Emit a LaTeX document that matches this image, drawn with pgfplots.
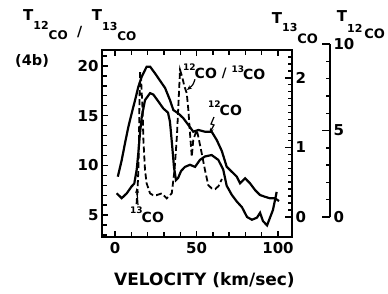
\documentclass[border=0pt]{standalone}
\usepackage{pgfplots}
\pgfplotsset{compat=1.18}
\usepackage{pgfplotstable}
\usepackage{fontspec}
\setmainfont{DejaVu Sans}
\usetikzlibrary{arrows.meta}
\newcommand{\fs}[1]{\fontsize{#1}{#1}\selectfont\bfseries}

% 12CO antenna temperature (right outer axis, T_12CO)
\pgfplotstableread{
x y
1.7 2.33
4.1 3.29
6.1 4.26
8.2 5.22
10.2 5.99
12.3 6.76
14.3 7.53
16.4 8.11
19.4 8.69
21.5 8.69
24.5 8.31
28.7 7.73
30.7 7.46
33.7 6.76
35.8 6.18
38.8 5.99
41.9 5.71
45.0 5.32
48.0 4.93
51.1 5.03
55.2 4.93
59.3 4.93
62.4 4.45
65.5 3.82
68.5 2.91
71.6 2.62
74.7 2.33
76.7 1.95
79.8 2.24
82.8 1.95
85.9 1.56
89.0 1.27
92.0 1.17
95.1 1.08
98.2 1.08
100.6 0.92
}\twelve

% 13CO antenna temperature (right inner axis, T_13CO)
\pgfplotstableread{
x y
1.0 0.34
4.1 0.27
7.2 0.34
10.2 0.44
11.8 0.48
13.3 0.68
14.3 0.92
15.3 1.20
16.4 1.44
18.4 1.68
21.5 1.78
23.5 1.76
26.6 1.66
29.6 1.56
32.5 1.50
33.7 1.37
35.0 1.04
36.2 0.71
37.4 0.53
38.7 0.56
40.5 0.66
42.9 0.72
46.0 0.75
49.1 0.72
52.1 0.82
55.2 0.87
59.3 0.89
63.4 0.82
66.4 0.68
68.5 0.45
71.6 0.32
74.8 0.22
77.9 0.14
81.0 0.00
84.0 -0.04
87.1 -0.01
89.0 0.06
90.8 -0.06
93.3 -0.12
95.1 -0.01
96.9 0.10
99.2 0.36
}\thirteen

% ratio T12/T13 (left axis)
\pgfplotstableread{
x y
13.2 6.11
13.8 7.52
14.3 9.53
14.7 12.55
15.0 16.58
15.4 19.40
16.0 18.60
16.9 15.57
17.4 12.55
18.4 9.53
19.4 8.19
21.5 7.19
23.3 7.01
25.6 7.01
28.7 7.19
31.7 6.68
33.7 7.01
34.8 7.19
36.5 9.5
38.0 13.0
39.0 16.5
39.9 19.6
41.2 18.9
42.5 18.0
44.0 17.26
45.0 15.57
46.0 13.23
47.1 10.87
48.0 12.55
50.1 13.56
51.1 12.89
53.2 11.21
55.2 9.53
57.2 8.02
59.3 7.69
61.5 7.62
63.5 7.92
65.6 8.63
}\ratio

\begin{document}
\begin{tikzpicture}
\useasboundingbox (0pt,0pt) rectangle (388pt,293pt);
\pgfplotsset{base/.style={
  scale only axis,
  axis line style={line width=2pt},
  every tick/.style={black, line width=1.4pt},
  tick align=inside,
  tick label style={font=\fs{15}},
  /pgf/number format/assume math mode=true,
}}
% main axis: ratio
\begin{axis}[base, at={(102pt,56pt)}, anchor=south west,
  width=190pt, height=187pt,
  xmin=-8, xmax=108.6, ymin=2.8, ymax=21.6,
  xtick={0,50,100}, minor xtick={10,20,30,40,60,70,80,90},
  ytick={5,10,15,20}, minor ytick={3,4,6,7,8,9,11,12,13,14,16,17,18,19,21},
  ytick pos=left,
  major tick length=6pt, minor tick length=5pt,
  xticklabel style={yshift=-2pt},
  clip=false]
\addplot[black, line width=1.8pt, dash pattern=on 6pt off 3pt] table[x=x,y=y] {\ratio};
\end{axis}
% T13CO axis
\begin{axis}[base, at={(102pt,56pt)}, anchor=south west,
  width=190pt, height=187pt,
  xmin=-8, xmax=108.6, ymin=-0.288, ymax=2.40,
  hide x axis, axis y line*=right,
  ytick={0,1,2},
  minor ytick={0.1,0.2,0.3,0.4,0.5,0.6,0.7,0.8,0.9,1.1,1.2,1.3,1.4,1.5,1.6,1.7,1.8,1.9,2.1,2.2,2.3},
  major tick length=7pt, minor tick length=4pt,
  clip=false]
\addplot[black, line width=2.2pt] table[x=x,y=y] {\thirteen};
\end{axis}
% T12CO axis
\begin{axis}[base, at={(102pt,76pt)}, anchor=south west,
  width=228pt, height=173pt,
  xmin=-8, xmax=131.9, ymin=0, ymax=10,
  hide x axis, axis y line*=right,
  ytick={0,5,10}, minor ytick={1,2,3,4,6,7,8,9},
  major tick length=8pt, minor tick length=4pt,
  clip=false]
\addplot[black, line width=2.2pt] table[x=x,y=y] {\twelve};
\end{axis}

% axis titles
\begin{scope}[every node/.style={inner sep=0pt, anchor=base west}]
\node at (23pt,272.3pt) {\fs{15}T\raisebox{-8.6pt}{\fs{11}12}\raisebox{-18.6pt}{\fs{12}CO}};
\node at (77pt,257pt) {\fs{14}/};
\node at (91.7pt,272.3pt) {\fs{15}T\raisebox{-9.3pt}{\fs{11}13}\raisebox{-19.3pt}{\fs{12}CO}};
\node at (15pt,228pt) {\fs{14.5}(4b)};

\node at (271.7pt,269.7pt) {\fs{15}T\raisebox{-8.4pt}{\fs{11}13}\raisebox{-20pt}{\fs{13}CO}};
\node at (336.7pt,271.3pt) {\fs{15}T\raisebox{-10.3pt}{\fs{11}12}\kern2pt\raisebox{-16.6pt}{\fs{13}CO}};

% in-plot labels
\node at (183pt,223pt) {\fs{9}12\kern-1pt\raisebox{-8pt}{\fs{14}CO}\hspace{5pt}\raisebox{-7pt}{\fs{13}/}\hspace{5pt}\raisebox{-2pt}{\fs{9}13}\kern-1pt\raisebox{-9pt}{\fs{14}CO}};
\node at (208pt,186pt) {\fs{9}12\kern-1pt\raisebox{-8pt}{\fs{14}CO}};
\node at (130pt,80pt) {\fs{9}13\kern-1pt\raisebox{-9pt}{\fs{14}CO}};
\end{scope}
\node[anchor=base, inner sep=0pt] at (204.5pt,8pt) {\fs{17}VELOCITY (km/sec)};

% arrows
\draw[line width=1.2pt, -{Stealth[length=5pt,width=4pt]}] (195pt,213.7pt) .. controls (193pt,208pt) .. (187pt,203pt);
\draw[line width=1.2pt, -{Stealth[length=5pt,width=4pt]}] (214pt,176pt) -- (211pt,169pt) -- (214pt,168pt) -- (209.5pt,160pt);
\draw[line width=1.2pt, -{Stealth[length=5pt,width=4pt]}] (138pt,88pt) -- (136.7pt,105pt);
\end{tikzpicture}
\end{document}
